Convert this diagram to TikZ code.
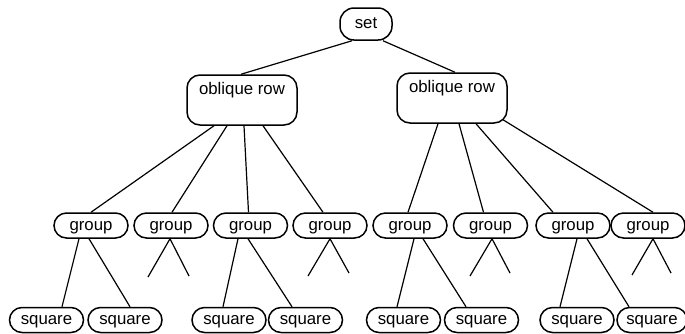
\documentclass[tikz,border=0pt]{standalone}
\usepackage{fontspec}
\setmainfont{Liberation Sans}
\usetikzlibrary{shapes.misc}
\begin{document}
\begin{tikzpicture}[x=1pt,y=-1pt,
  every node/.style={font=\fontsize{16.8pt}{18pt}\selectfont, inner sep=0pt},
  lbl/.style={text height=12.5pt, text depth=3.5pt},
  setbox/.style={lbl, draw, line width=1.5pt, rectangle, rounded corners=14pt, minimum width=52pt, minimum height=32pt},
  rowbox/.style={draw, line width=1.5pt, rectangle, rounded corners=13pt, minimum width=110pt, text height=19pt, text depth=31pt},
  pill/.style={lbl, draw, line width=1.5pt, rounded rectangle, minimum width=74pt, minimum height=25pt},
  edge/.style={line width=1.2pt}
]
\useasboundingbox (0,0) rectangle (685,333);

\node[setbox] (set) at (366,24) {set};
\node[rowbox] (ol) at (242,100) {oblique row};
\node[rowbox] (or) at (452,98) {oblique row};

\node[pill] (g1) at (91,225.5) {group};
\node[pill] (g2) at (171,225.5) {group};
\node[pill] (g3) at (250.5,225.5) {group};
\node[pill] (g4) at (330,225.5) {group};
\node[pill] (g5) at (410,225.5) {group};
\node[pill] (g6) at (490.5,225.5) {group};
\node[pill] (g7) at (573,225.5) {group};
\node[pill] (g8) at (648,225.5) {group};

\node[pill] (s1) at (46.5,320) {square};
\node[pill] (s2) at (125,320) {square};
\node[pill] (s3) at (229,320) {square};
\node[pill] (s4) at (305.5,320) {square};
\node[pill] (s5) at (403.5,320) {square};
\node[pill] (s6) at (481.5,320) {square};
\node[pill] (s7) at (577,320) {square};
\node[pill,minimum width=70pt] (s8) at (652,320) {square};

% set to rows
\draw[edge] ([xshift=-14pt]set.south) -- ([xshift=-1pt]ol.north);
\draw[edge] ([xshift=17pt]set.south) -- ([xshift=3pt]or.north);

% left row to groups
\draw[edge] ([xshift=-28pt]ol.south) -- (g1.north);
\draw[edge] ([xshift=-15pt]ol.south) -- ([xshift=1pt]g2.north);
\draw[edge] ([xshift=2pt]ol.south) -- ([xshift=-2pt]g3.north);
\draw[edge] ([xshift=21pt]ol.south) -- ([xshift=-7pt]g4.north);

% right row to groups
\draw[edge] ([xshift=-14pt]or.south) -- ([xshift=-2pt]g5.north);
\draw[edge] ([xshift=7pt]or.south) -- ([xshift=-7pt]g6.north);
\draw[edge] ([xshift=24pt]or.south) -- ([xshift=-20pt]g7.north);
\draw[edge] ([xshift=51pt,yshift=4pt]or.south) -- ([xshift=5pt]g8.north);

% groups to squares
\draw[edge] ([xshift=-12pt]g1.south) -- ([xshift=15.5pt]s1.north);
\draw[edge] ([xshift=-2pt]g1.south) -- ([xshift=5pt]s2.north);
\draw[edge] ([xshift=-12.5pt]g3.south) -- ([xshift=-6pt]s3.north);
\draw[edge] ([xshift=-2.5pt]g3.south) -- ([xshift=-13.5pt]s4.north);
\draw[edge] ([xshift=4pt]g5.south) -- ([xshift=-6.5pt]s5.north);
\draw[edge] ([xshift=13pt]g5.south) -- ([xshift=-15.5pt]s6.north);
\draw[edge] ([xshift=4pt]g7.south) -- ([xshift=-17pt]s7.north);
\draw[edge] ([xshift=14pt]g7.south) -- ([xshift=-23pt]s8.north);

% stubs
\coordinate (a2) at (148,277); \coordinate (b2) at (189,276);
\coordinate (a4) at (308,276); \coordinate (b4) at (349,273);
\coordinate (a6) at (470,276); \coordinate (b6) at (510,273);
\coordinate (a8) at (632,275); \coordinate (b8) at (671,273);
\draw[edge] (a2) -- ([xshift=-1pt]g2.south) -- (b2);
\draw[edge] (a4) -- (g4.south) -- (b4);
\draw[edge] (a6) -- ([xshift=1.5pt]g6.south) -- (b6);
\draw[edge] (a8) -- ([xshift=5pt]g8.south) -- (b8);
\end{tikzpicture}
\end{document}
